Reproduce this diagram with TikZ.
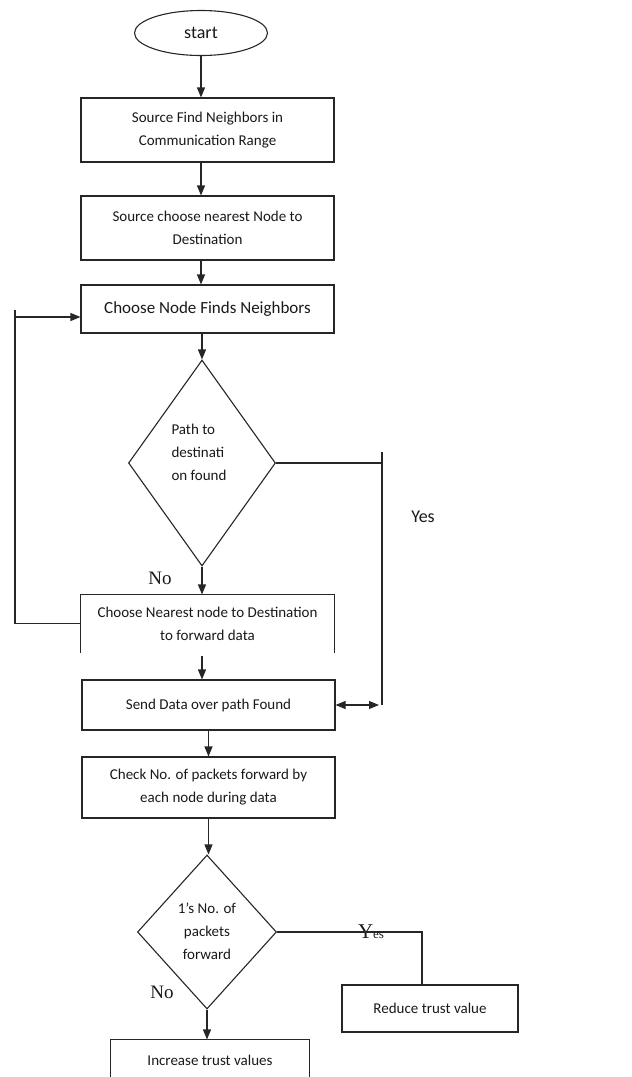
\documentclass[tikz,border=0pt]{standalone}
\usepackage{fontspec}
\setmainfont{Carlito}
\newfontfamily\seriffont{Liberation Serif}
\usetikzlibrary{shapes.geometric,arrows.meta}
\begin{document}
\begin{tikzpicture}[x=1pt,y=-1pt,
  line width=1.1pt, draw=black!85,
  every node/.style={font=\fontsize{15}{23}\selectfont, inner sep=0pt, text=black!90},
  box/.style={draw, rectangle, minimum width=253pt, align=center},
  dia/.style={draw, diamond, inner sep=0pt},
  lbl/.style={font=\seriffont\fontsize{19}{19}\selectfont},
  arr/.style={-{Triangle[length=10pt,width=8pt]}},
  arrtwo/.style={{Triangle[length=10pt,width=8pt]}-{Triangle[length=10pt,width=8pt]}}]
\useasboundingbox (0,0) rectangle (632,1077);

% nodes
\node[draw, ellipse, minimum width=133pt, minimum height=45pt, font=\fontsize{18}{18}\selectfont] (start) at (201,33) {start};
\node[box, minimum height=64pt] (b1) at (207.5,130) {Source Find Neighbors in\\Communication Range};
\node[box, minimum height=64pt] (b2) at (207.5,228) {Source choose nearest Node to\\Destination};
\node[box, minimum height=48pt, font=\fontsize{17}{20}\selectfont] (b3) at (207.5,309) {Choose Node Finds Neighbors};
\node[dia, minimum width=147pt, minimum height=206pt] (d1) at (202,463) {};
\node[align=left] (t1) at (199,452) {Path to\\destinati\\on found};
\node[rectangle, minimum width=253pt, minimum height=57pt, align=center] (b4) at (207.5,623.5) {Choose Nearest node to Destination\\to forward data};
\draw (b4.south west) -- (b4.north west) -- (b4.north east) -- (b4.south east);
\node[box, minimum height=50pt] (b5) at (208.5,705) {Send Data over path Found};
\node[box, minimum height=61pt] (b6) at (208.5,787.5) {Check No. of packets forward by\\each node during data};
\node[dia, minimum width=139pt, minimum height=154pt] (d2) at (207,932) {};
\node[align=center] (t2) at (207,931) {1's No. of\\packets\\forward};
\node[box, minimum width=176pt, minimum height=47pt] (b7) at (430,1008.5) {Reduce trust value};
\node[rectangle, minimum width=198pt, minimum height=40pt] (b8) at (210,1060) {Increase trust values};
\draw (b8.south west) -- (b8.north west) -- (b8.north east) -- (b8.south east);

% labels
\node[lbl] (no1) at (160,578) {No};
\node[font=\fontsize{18}{18}\selectfont] (yes1) at (423,517) {Yes};
\node[lbl] (no2) at (162,992) {No};
\node[font=\seriffont\fontsize{21}{21}\selectfont, anchor=base] (yes2) at (371,938) {Y{\fontsize{13}{13}\selectfont es}};

% connectors
\coordinate (cx) at (201,0);
\draw[arr] (start.south) -- (b1.north -| start.south);
\draw[arr] (b1.south -| cx) -- (b2.north -| cx);
\draw[arr] (b2.south -| cx) -- (b3.north -| cx);
\draw[arr] (b3.south -| d1.north) -- (d1.north);
\draw[arr] (d1.south) -- (b4.north -| d1.south);
\coordinate (lx) at (15,310);
\coordinate (la) at (15,317);
\draw (b4.west) -- (b4.west -| lx) -- (lx);
\draw[arr] (la) -- (la -| b3.west);
\coordinate (yr) at (382,452);
\coordinate (yb) at (382,705);
\draw (d1.east) -- (d1.east -| yr);
\draw (yr) -- (yb);
\draw[arrtwo] (b5.east) -- ([xshift=-3pt]yb);
\draw[arr] ([yshift=-3pt]b4.south -| d1.south) -- (b5.north -| d1.south);
\draw[arr] (b5.south) -- (b6.north);
\draw[arr] (b6.south -| b5.south) -- (d2.north -| b5.south);
\coordinate (yc) at (422,933);
\draw (d2.east) -- (d2.east -| yc) -- (b7.north -| yc);
\draw[arr] (d2.south) -- (b8.north -| d2.south);
\end{tikzpicture}
\end{document}
